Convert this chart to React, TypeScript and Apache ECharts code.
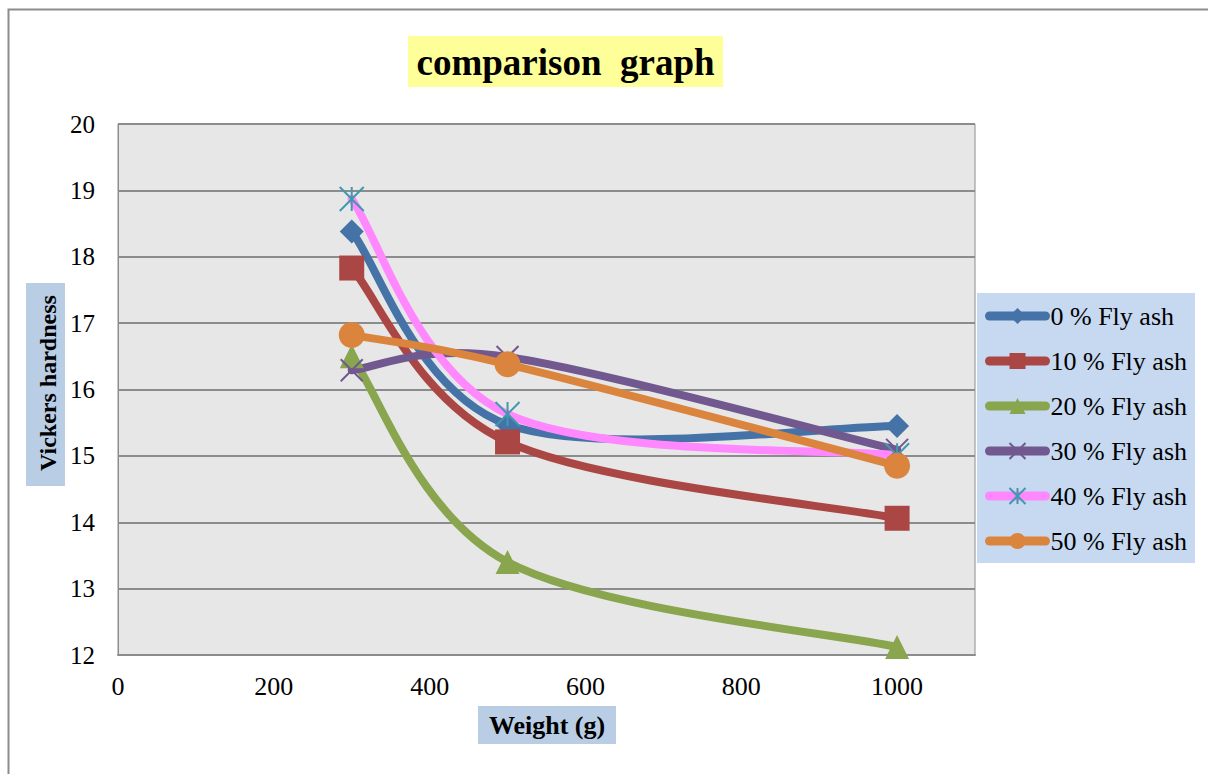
import React, { useEffect, useRef } from "react";
import * as echarts from "echarts";

const weights = [300, 500, 1000];
const seriesNames = ["0 % Fly ash", "10 % Fly ash", "20 % Fly ash", "30 % Fly ash", "40 % Fly ash", "50 % Fly ash"];
const ash0 = [18.38, 15.47, 15.45];
const ash10 = [17.83, 15.21, 14.06];
const ash20 = [16.5, 13.4, 12.12];
const ash30 = [16.29, 16.49, 15.09];
const ash40 = [18.87, 15.63, 15.01];
const ash50 = [16.82, 16.38, 14.85];
const allValues = [ash0, ash10, ash20, ash30, ash40, ash50];

const lineColors = ["#4572A7", "#AA4643", "#89A54E", "#71588F", "#FF88FF", "#DB843D"];
const markerColors = ["#4572A7", "#AA4643", "#89A54E", "#71588F", "#4198AF", "#DB843D"];
const symbols = [
  "diamond",
  "rect",
  "triangle",
  "path://M0,0L10,10M10,0L0,10",
  "path://M5,0L5,10M0,0L10,10M10,0L0,10",
  "circle",
];
const symbolSizes = [24, 25, 24, 22, 24, 26];

const FONT = "Liberation Serif";

// Excel-like smoothing: Catmull-Rom converted to cubic Bezier (tension 1/6)
function smoothPath(pts: number[][]): string {
  const n = pts.length;
  let d = `M${pts[0][0]},${pts[0][1]}`;
  for (let i = 0; i < n - 1; i++) {
    const p0 = pts[Math.max(0, i - 1)];
    const p1 = pts[i];
    const p2 = pts[i + 1];
    const p3 = pts[Math.min(n - 1, i + 2)];
    const c1x = p1[0] + (p2[0] - p0[0]) / 6;
    const c1y = p1[1] + (p2[1] - p0[1]) / 6;
    const c2x = p2[0] - (p3[0] - p1[0]) / 6;
    const c2y = p2[1] - (p3[1] - p1[1]) / 6;
    d += ` C${c1x},${c1y} ${c2x},${c2y} ${p2[0]},${p2[1]}`;
  }
  return d;
}

export default function App() {
  const ref = useRef<HTMLDivElement>(null);
  useEffect(() => {
    if (!ref.current) return;
    const chart = echarts.init(ref.current, undefined, { renderer: "svg" });

    const curves = seriesNames.map((name, i) => ({
      name: "curve " + name,
      type: "custom",
      coordinateSystem: "cartesian2d",
      data: weights.map((w, j) => [w, allValues[i][j]]),
      encode: { x: 0, y: 1 },
      z: 2,
      silent: true,
      renderItem: (params: any, api: any) => {
        if (params.dataIndex !== 0) return null;
        const pts = weights.map((w, j) => api.coord([w, allValues[i][j]]));
        return {
          type: "path",
          shape: { pathData: smoothPath(pts) },
          style: {
            fill: "none",
            stroke: lineColors[i],
            lineWidth: 8,
            lineCap: "round",
            lineJoin: "round",
          },
        };
      },
    }));

    const markers = seriesNames.map((name, i) => {
      const isStroke = i === 3 || i === 4;
      return {
        name,
        type: "line",
        data: weights.map((w, j) => [w, allValues[i][j]]),
        symbol: symbols[i],
        symbolSize: symbolSizes[i],
        showAllSymbol: true,
        lineStyle: { color: lineColors[i], width: 8, opacity: 0 },
        itemStyle: isStroke
          ? { color: "rgba(0,0,0,0)", borderColor: markerColors[i], borderWidth: 2 }
          : { color: markerColors[i], borderColor: markerColors[i], borderWidth: 0 },
        z: 3,
      };
    });

    chart.setOption({
      animation: false,
      backgroundColor: "#ffffff",
      textStyle: { fontFamily: FONT },
      grid: {
        left: 118,
        right: 233,
        top: 124,
        bottom: 119,
        show: true,
        backgroundColor: "#E7E7E7",
        borderColor: "#8C8C8C",
        borderWidth: 1,
      },
      xAxis: {
        type: "value",
        min: 0,
        max: 1100,
        interval: 200,
        axisLine: { show: true, lineStyle: { color: "#8C8C8C", width: 2 } },
        axisTick: { show: false },
        splitLine: { show: false },
        axisLabel: {
          showMaxLabel: false,
          color: "#000",
          fontFamily: FONT,
          fontSize: 26,
          margin: 18,
          formatter: (v: number) => String(v),
        },
      },
      yAxis: {
        type: "value",
        min: 12,
        max: 20,
        interval: 1,
        axisLine: { show: true, lineStyle: { color: "#8C8C8C", width: 1 } },
        axisTick: { show: false },
        splitLine: { show: true, lineStyle: { color: "#8C8C8C", width: 2 } },
        axisLabel: {
          color: "#000",
          fontFamily: FONT,
          fontSize: 25,
          margin: 23,
          formatter: (v: number) => String(v),
        },
      },
      legend: {
        orient: "vertical",
        left: 977,
        top: 293,
        backgroundColor: "#C6D9F1",
        padding: [10, 8, 9, 8],
        itemWidth: 56,
        itemHeight: 20,
        itemGap: 19,
        lineStyle: { width: 9, opacity: 1, cap: "round" },
        textStyle: {
          fontFamily: FONT,
          fontSize: 26,
          color: "#000",
        },
        data: seriesNames,
      },
      graphic: [
        {
          type: "rect",
          shape: { x: 8.5, y: 9.5, width: 1260, height: 820 },
          style: { fill: "none", stroke: "#8C8C8C", lineWidth: 2 },
          silent: true,
        },
        {
          type: "rect",
          shape: { x: 408, y: 36, width: 315, height: 51 },
          style: { fill: "#FFFF99" },
        },
        {
          type: "text",
          x: 565.5,
          y: 62,
          style: {
            text: "comparison  graph",
            fontFamily: FONT,
            fontWeight: "bold",
            fontSize: 37,
            fill: "#000",
            align: "center",
            verticalAlign: "middle",
          },
        },
        {
          type: "rect",
          shape: { x: 26, y: 283, width: 39, height: 203 },
          style: { fill: "#B9CDE5" },
        },
        {
          type: "text",
          x: 48,
          y: 383,
          rotation: Math.PI / 2,
          style: {
            text: "Vickers hardness",
            fontFamily: FONT,
            fontWeight: "bold",
            fontSize: 24,
            fill: "#000",
            align: "center",
            verticalAlign: "middle",
          },
        },
        {
          type: "rect",
          shape: { x: 478, y: 706, width: 138, height: 38 },
          style: { fill: "#B9CDE5" },
        },
        {
          type: "text",
          x: 547,
          y: 725,
          style: {
            text: "Weight (g)",
            fontFamily: FONT,
            fontWeight: "bold",
            fontSize: 26,
            fill: "#000",
            align: "center",
            verticalAlign: "middle",
          },
        },
      ],
      series: [...curves, ...markers],
    });
    return () => chart.dispose();
  }, []);
  return (
    <div
      ref={ref}
      style={{ position: "fixed", left: 0, top: 0, width: 1208, height: 774 }}
    />
  );
}
